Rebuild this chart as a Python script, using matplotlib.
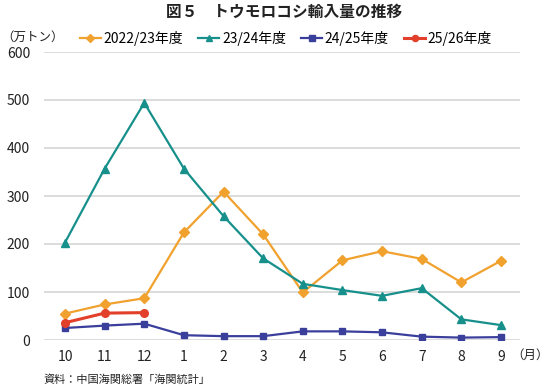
import matplotlib
matplotlib.use("Agg")
from matplotlib import pyplot as plt

plt.rcParams['font.family'] = ['Noto Sans CJK JP', 'DejaVu Sans']

months = ["10", "11", "12", "1", "2", "3", "4", "5", "6", "7", "8", "9"]
y2022_23 = [55, 74, 87, 224, 309, 220, 99, 166, 185, 169, 120, 165]
y2023_24 = [203, 357, 494, 357, 258, 170, 117, 104, 92, 108, 43, 31]
y2024_25 = [25, 30, 34, 10, 8, 8, 18, 18, 16, 7, 5, 6]
y2025_26 = [36, 56, 57]

series = [
    ("2022/23年度", y2022_23, "#F0A12E", "D", 5),
    ("23/24年度", y2023_24, "#17908C", "^", 5.5),
    ("24/25年度", y2024_25, "#3B3F9C", "s", 5),
    ("25/26年度", y2025_26, "#E2402A", "o", 5.5),
]

fig = plt.figure(figsize=(5.5, 3.89), dpi=100)
ax = fig.add_axes([44 / 550, 1 - 340 / 389, 476 / 550, 288 / 389])

x = list(range(len(months)))
for label, vals, color, marker, ms in series:
    ax.plot(x[:len(vals)], vals, color=color, marker=marker, markersize=ms,
            linewidth=1.6 if label != "25/26年度" else 2.2, label=label)

ax.set_xlim(-0.53, 11.48)
ax.set_ylim(0, 600)
ax.set_yticks(range(0, 601, 100))
ax.set_xticks(x)
ax.set_xticklabels(months)
ax.grid(axis="y", color="#D6D6D6", linewidth=1.2)
ax.set_axisbelow(True)
for s in ax.spines.values():
    s.set_visible(False)
ax.tick_params(length=0, labelsize=10, colors="#222222")
ax.tick_params(axis="y", pad=10)
ax.tick_params(axis="x", pad=7)

fig.text(284 / 550, 1 - 12 / 389, "図５　トウモロコシ輸入量の推移", ha="center", va="center",
         fontsize=11.3, fontweight="bold", color="#222222")
fig.text(1 / 550, 1 - 37 / 389, "（万トン）", ha="left", va="center", fontsize=9, color="#222222")
fig.text(549 / 550, 1 - 355 / 389, "（月）", ha="right", va="center", fontsize=9, color="#222222")
fig.text(44 / 550, 1 - 380 / 389, "資料：中国海関総署「海関統計」", ha="left", va="center",
         fontsize=8, color="#222222")

fig.legend(loc="center", bbox_to_anchor=(0.52, 1 - 38 / 389), ncol=4, frameon=False,
           fontsize=10, handlelength=1.5, handletextpad=0.2, columnspacing=1.1,
           markerscale=0.8)

fig.savefig("out.png", dpi=100)
